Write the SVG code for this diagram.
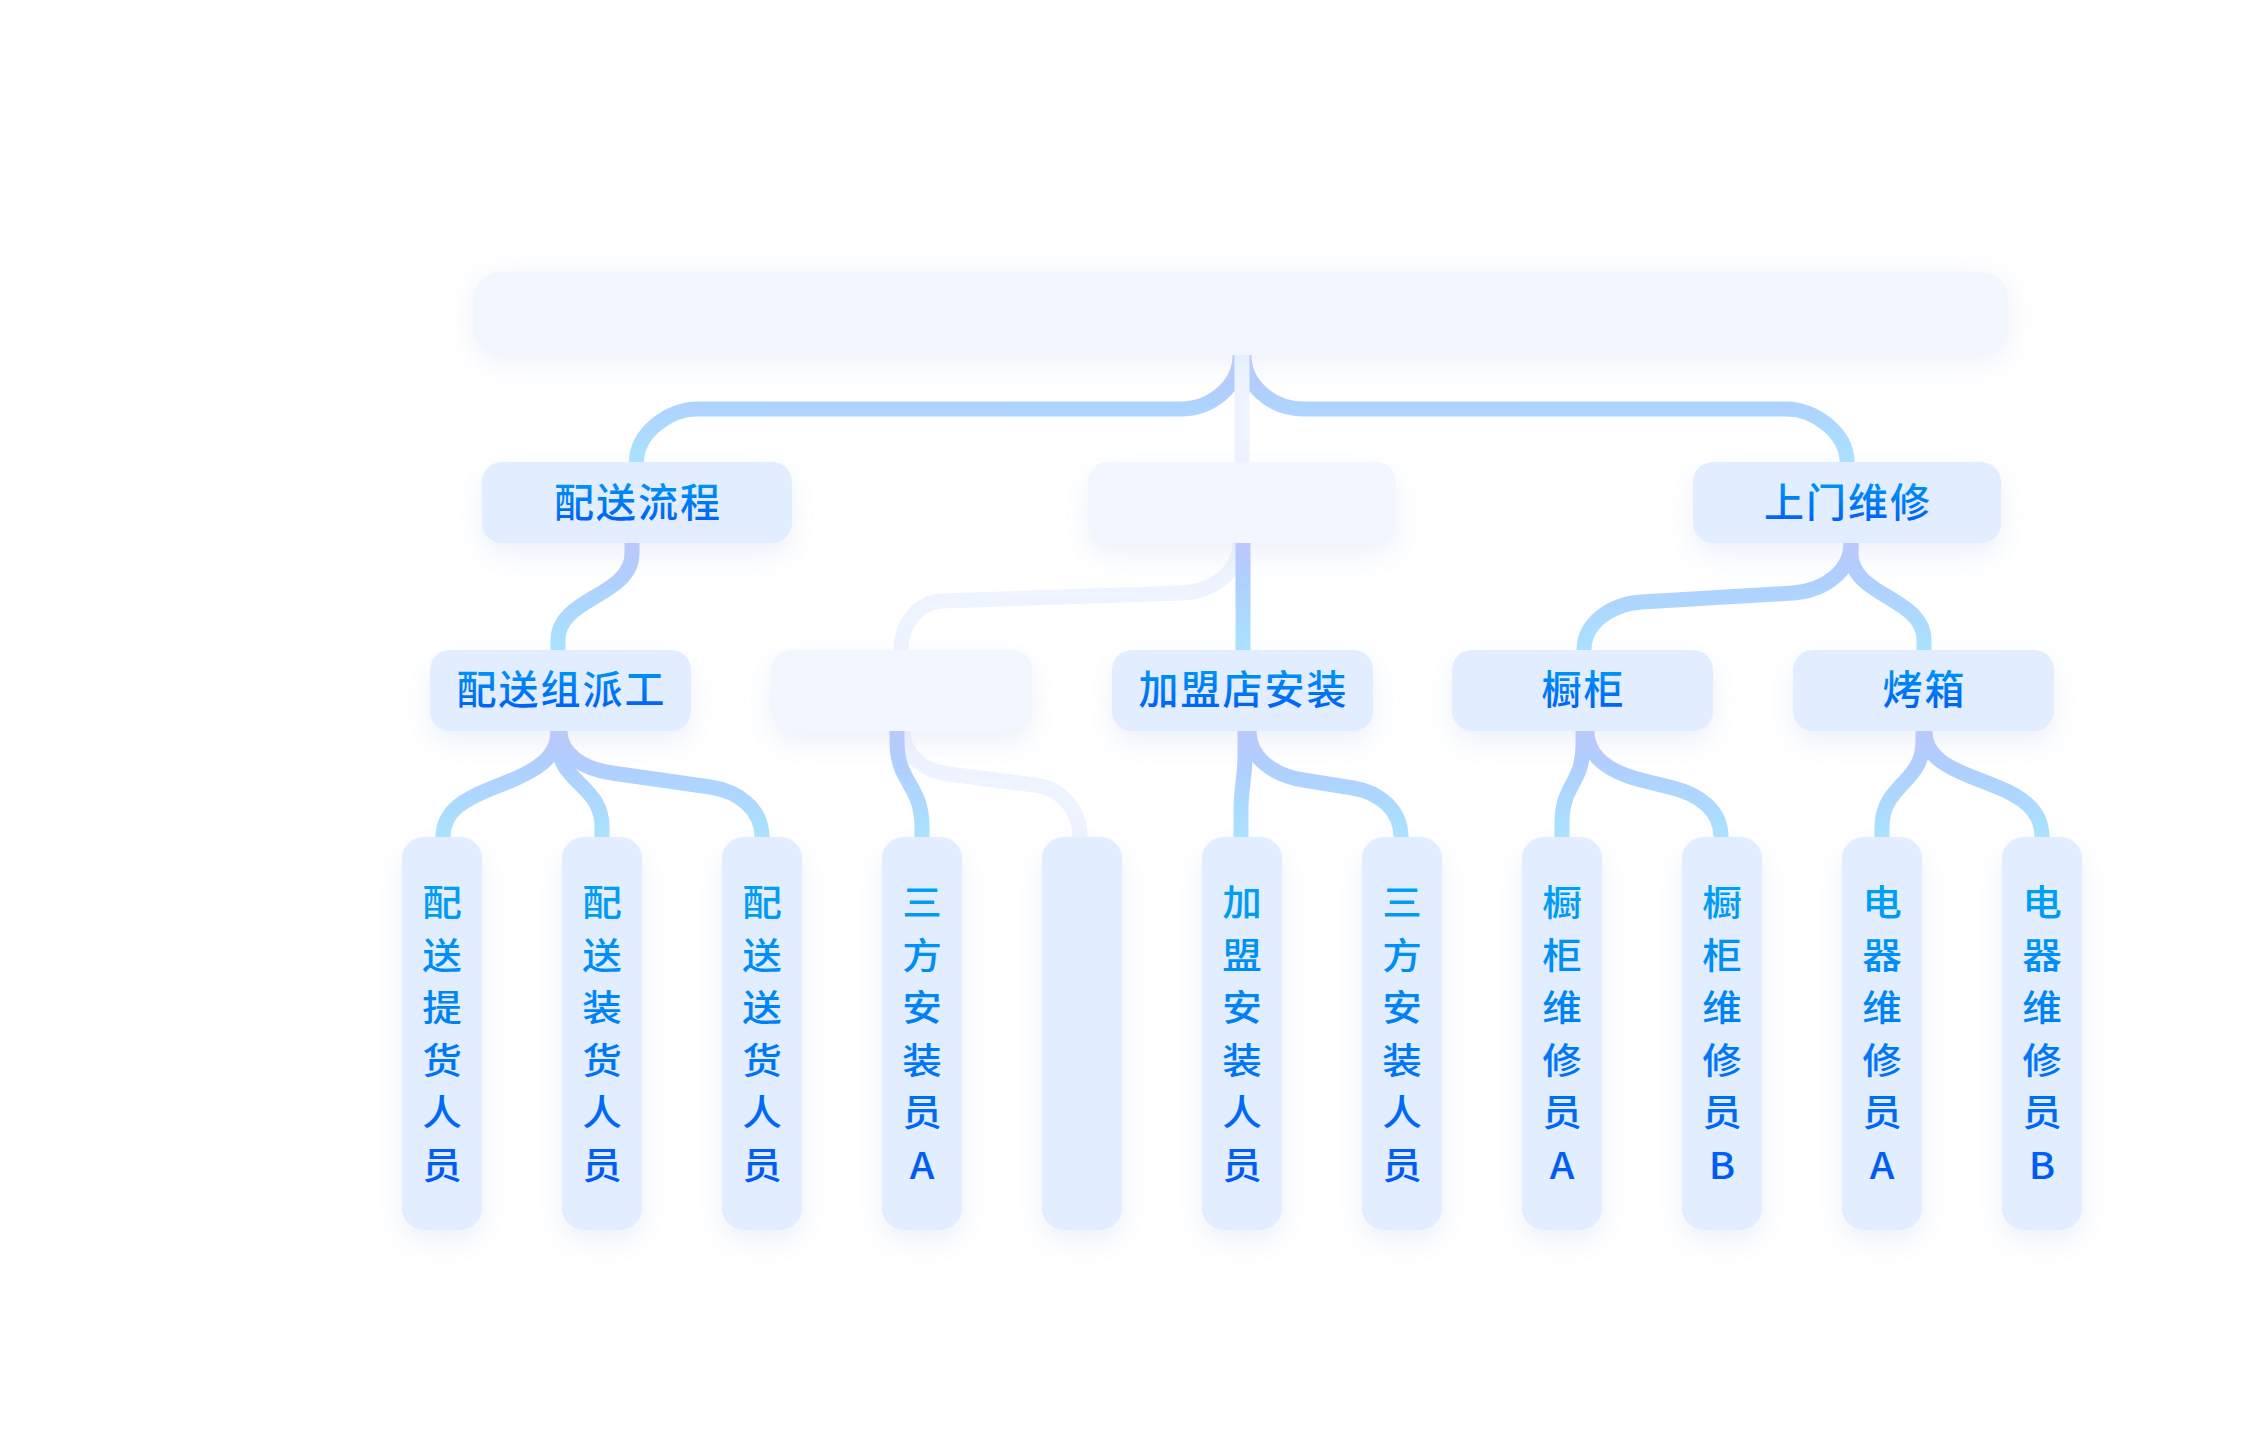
<svg xmlns="http://www.w3.org/2000/svg" width="2250" height="1440" viewBox="0 0 2250 1440">
<defs>
<style>
.box{fill:#e2eeff;filter:url(#sh)}
.ebox{fill:#f1f6ff;filter:url(#sh)}
.rbox{fill:#f2f6ff;filter:url(#shr)}
.t{font-family:"Noto Sans CJK SC","Noto Sans",sans-serif;font-size:40px;font-weight:500;fill:url(#tg);text-anchor:middle;dominant-baseline:central}
.v{font-size:36px}
.h{letter-spacing:2px}
.c{fill:none;stroke-width:15;stroke-linecap:butt;stroke-linejoin:round}
.c0{stroke:url(#g0)}
.c1{stroke:url(#g1)}
.c2{stroke:url(#g2)}
.lt{stroke:#edf4ff}
</style>
<filter id="sh" x="-60%" y="-60%" width="220%" height="220%">
<feDropShadow dx="0" dy="12" stdDeviation="14" flood-color="#cdd6ee" flood-opacity="0.35"/>
</filter>
<filter id="shr" x="-10%" y="-80%" width="120%" height="260%">
<feDropShadow dx="0" dy="6" stdDeviation="16" flood-color="#d6def2" flood-opacity="0.45"/>
</filter>
<linearGradient id="tg" x1="0" y1="0" x2="0" y2="1">
<stop offset="0" stop-color="#00a3f7"/>
<stop offset="1" stop-color="#0057f5"/>
</linearGradient>
<linearGradient id="g0" gradientUnits="userSpaceOnUse" x1="0" y1="355" x2="0" y2="462">
<stop offset="0" stop-color="#b4c4ff"/>
<stop offset="0.5" stop-color="#aed4ff"/>
<stop offset="1" stop-color="#a9e2ff"/>
</linearGradient>
<linearGradient id="g1" gradientUnits="userSpaceOnUse" x1="0" y1="543" x2="0" y2="650">
<stop offset="0" stop-color="#b4c4ff"/>
<stop offset="0.5" stop-color="#aed4ff"/>
<stop offset="1" stop-color="#a9e2ff"/>
</linearGradient>
<linearGradient id="g2" gradientUnits="userSpaceOnUse" x1="0" y1="731" x2="0" y2="837">
<stop offset="0" stop-color="#b4c4ff"/>
<stop offset="0.5" stop-color="#aed4ff"/>
<stop offset="1" stop-color="#a9e2ff"/>
</linearGradient>
</defs>
<rect x="0" y="0" width="2250" height="1440" fill="#ffffff"/>

<g id="connectors">
<path class="c c0" d="M1240 348 L1240 355 C1240 384.8 1213 409 1180 409 L696.5 409 C669.6 409 636.5 432.7 636.5 462 L636.5 468"/>
<path class="c c0" d="M1244 348 L1244 355 C1244 384.8 1271 409 1304 409 L1787 409 C1813.9 409 1847 432.7 1847 462 L1847 468"/>
<path class="c lt" d="M1242 348 L1242 468"/>

<path class="c c1" d="M632 537 L632 553 C632 597 558 597 558 640 L558 656"/>
<path class="c lt" d="M1240 537 L1240 543 C1240 570.6 1213.6 591.9 1181 593 L942 601 C919.4 601.8 901 623 901 650 L901 656"/>
<path class="c c1" d="M1243 537 L1243 656"/>
<path class="c c1" d="M1851 537 L1851 543 C1851 570.6 1825 591 1793 593 L1642 602 C1610 603.9 1584 623.5 1584 650 L1584 656"/>
<path class="c c1" d="M1851 537 L1851 553 C1851 597 1924 597 1924 640 L1924 656"/>

<path class="c c2" d="M558 725 L558 731 C558 759.7 532.2 772.1 505 783 L490 789 C466 798.6 443 810.5 443 837 L443 843"/>
<path class="c c2" d="M558 725 L558 741 C558 784 602 784 602 827 L602 843"/>
<path class="c c2" d="M560 725 L560 731 C560 754.2 583.6 768.9 612 773 L710 787 C738.4 791.1 762 809.4 762 837 L762 843"/>
<path class="c lt" d="M903 725 L903 731 C903 754.7 923.4 770.9 948 774 L1035 785 C1059.6 788.1 1080 808.3 1080 837 L1080 843"/>
<path class="c c2" d="M897 725 L897 741 C897 784 922 784 922 827 L922 843"/>
<path class="c c2" d="M1245 725 L1245 757 C1245 775 1241 790 1241 810 L1241 843"/>
<path class="c c2" d="M1249 725 L1249 731 C1249 758 1273.6 775.3 1303 780 L1353 788 C1379.2 792.2 1401 810 1401 837 L1401 843"/>
<path class="c c2" d="M1583 725 L1583 745 C1583 784 1562 784 1562 823 L1562 843"/>
<path class="c c2" d="M1587 725 L1587 731 C1587 758 1612.1 772.8 1641 780 L1673 788 C1698.7 794.4 1721 810 1721 837 L1721 843"/>
<path class="c c2" d="M1923 725 L1923 741 C1923 784 1882 784 1882 827 L1882 843"/>
<path class="c c2" d="M1925 725 L1925 731 C1925 756.4 1947.8 767.5 1972 777 L1995 786 C2019.2 795.5 2042 808.8 2042 837 L2042 843"/>
</g>

<g id="root"><rect class="rbox" x="474" y="272" width="1534" height="83" rx="26"/></g>

<g id="n-peisongliucheng"><rect class="box" x="482" y="462" width="310" height="81" rx="20"/><text class="t h" x="638" y="500">配送流程</text></g>
<g id="n-mid1"><rect class="ebox" x="1088" y="462" width="308" height="81" rx="20"/></g>
<g id="n-shangmenweixiu"><rect class="box" x="1693" y="462" width="308" height="81" rx="20"/><text class="t h" x="1848" y="500">上门维修</text></g>

<g id="n-peisongzupaigong"><rect class="box" x="430" y="650" width="261" height="81" rx="20"/><text class="t h" x="561.5" y="687">配送组派工</text></g>
<g id="n-mid2"><rect class="ebox" x="771" y="650" width="261" height="81" rx="20"/></g>
<g id="n-jiamengdian"><rect class="box" x="1112" y="650" width="261" height="81" rx="20"/><text class="t h" x="1243.5" y="687">加盟店安装</text></g>
<g id="n-chugui"><rect class="box" x="1452" y="650" width="261" height="81" rx="20"/><text class="t h" x="1583.5" y="687">橱柜</text></g>
<g id="n-kaoxiang"><rect class="box" x="1793" y="650" width="261" height="81" rx="20"/><text class="t h" x="1924.5" y="687">烤箱</text></g>

<g id="n-l3-1"><rect class="box" x="402" y="837" width="80" height="393" rx="22"/><text class="t v" transform="translate(442 0) scale(1.1 1) translate(-442 0)"><tspan x="442" y="900">配</tspan><tspan x="442" y="952.5">送</tspan><tspan x="442" y="1005">提</tspan><tspan x="442" y="1057.5">货</tspan><tspan x="442" y="1110">人</tspan><tspan x="442" y="1162.5">员</tspan></text></g>
<g id="n-l3-2"><rect class="box" x="562" y="837" width="80" height="393" rx="22"/><text class="t v" transform="translate(602 0) scale(1.1 1) translate(-602 0)"><tspan x="602" y="900">配</tspan><tspan x="602" y="952.5">送</tspan><tspan x="602" y="1005">装</tspan><tspan x="602" y="1057.5">货</tspan><tspan x="602" y="1110">人</tspan><tspan x="602" y="1162.5">员</tspan></text></g>
<g id="n-l3-3"><rect class="box" x="722" y="837" width="80" height="393" rx="22"/><text class="t v" transform="translate(762 0) scale(1.1 1) translate(-762 0)"><tspan x="762" y="900">配</tspan><tspan x="762" y="952.5">送</tspan><tspan x="762" y="1005">送</tspan><tspan x="762" y="1057.5">货</tspan><tspan x="762" y="1110">人</tspan><tspan x="762" y="1162.5">员</tspan></text></g>
<g id="n-l3-4"><rect class="box" x="882" y="837" width="80" height="393" rx="22"/><text class="t v" transform="translate(922 0) scale(1.1 1) translate(-922 0)"><tspan x="922" y="900">三</tspan><tspan x="922" y="952.5">方</tspan><tspan x="922" y="1005">安</tspan><tspan x="922" y="1057.5">装</tspan><tspan x="922" y="1110">员</tspan><tspan x="922" y="1162.5">A</tspan></text></g>
<g id="n-l3-5"><rect class="box" x="1042" y="837" width="80" height="393" rx="22"/></g>
<g id="n-l3-6"><rect class="box" x="1202" y="837" width="80" height="393" rx="22"/><text class="t v" transform="translate(1242 0) scale(1.1 1) translate(-1242 0)"><tspan x="1242" y="900">加</tspan><tspan x="1242" y="952.5">盟</tspan><tspan x="1242" y="1005">安</tspan><tspan x="1242" y="1057.5">装</tspan><tspan x="1242" y="1110">人</tspan><tspan x="1242" y="1162.5">员</tspan></text></g>
<g id="n-l3-7"><rect class="box" x="1362" y="837" width="80" height="393" rx="22"/><text class="t v" transform="translate(1402 0) scale(1.1 1) translate(-1402 0)"><tspan x="1402" y="900">三</tspan><tspan x="1402" y="952.5">方</tspan><tspan x="1402" y="1005">安</tspan><tspan x="1402" y="1057.5">装</tspan><tspan x="1402" y="1110">人</tspan><tspan x="1402" y="1162.5">员</tspan></text></g>
<g id="n-l3-8"><rect class="box" x="1522" y="837" width="80" height="393" rx="22"/><text class="t v" transform="translate(1562 0) scale(1.1 1) translate(-1562 0)"><tspan x="1562" y="900">橱</tspan><tspan x="1562" y="952.5">柜</tspan><tspan x="1562" y="1005">维</tspan><tspan x="1562" y="1057.5">修</tspan><tspan x="1562" y="1110">员</tspan><tspan x="1562" y="1162.5">A</tspan></text></g>
<g id="n-l3-9"><rect class="box" x="1682" y="837" width="80" height="393" rx="22"/><text class="t v" transform="translate(1722 0) scale(1.1 1) translate(-1722 0)"><tspan x="1722" y="900">橱</tspan><tspan x="1722" y="952.5">柜</tspan><tspan x="1722" y="1005">维</tspan><tspan x="1722" y="1057.5">修</tspan><tspan x="1722" y="1110">员</tspan><tspan x="1722" y="1162.5">B</tspan></text></g>
<g id="n-l3-10"><rect class="box" x="1842" y="837" width="80" height="393" rx="22"/><text class="t v" transform="translate(1882 0) scale(1.1 1) translate(-1882 0)"><tspan x="1882" y="900">电</tspan><tspan x="1882" y="952.5">器</tspan><tspan x="1882" y="1005">维</tspan><tspan x="1882" y="1057.5">修</tspan><tspan x="1882" y="1110">员</tspan><tspan x="1882" y="1162.5">A</tspan></text></g>
<g id="n-l3-11"><rect class="box" x="2002" y="837" width="80" height="393" rx="22"/><text class="t v" transform="translate(2042 0) scale(1.1 1) translate(-2042 0)"><tspan x="2042" y="900">电</tspan><tspan x="2042" y="952.5">器</tspan><tspan x="2042" y="1005">维</tspan><tspan x="2042" y="1057.5">修</tspan><tspan x="2042" y="1110">员</tspan><tspan x="2042" y="1162.5">B</tspan></text></g>
</svg>
